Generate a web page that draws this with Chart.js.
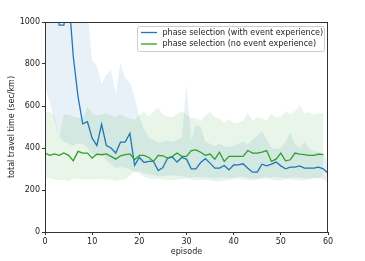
<!DOCTYPE html>
<html><head><meta charset="utf-8">
<script src="https://cdn.jsdelivr.net/npm/chart.js@4"></script>
<style>html,body{margin:0;padding:0;background:#fff;}canvas{display:block;}</style>
</head><body>
<canvas id="c" width="365" height="261"></canvas>
<script>
const episodes = [0,1,2,3,4,5,6,7,8,9,10,11,12,13,14,15,16,17,18,19,20,21,22,23,24,25,26,27,28,29,30,31,32,33,34,35,36,37,38,39,40,41,42,43,44,45,46,47,48,49,50,51,52,53,54,55,56,57,58,59,60];
const xTicks = [0,10,20,30,40,50,60];
const yTicks = [0,200,400,600,800,1000];
const seriesLabels = ['phase selection (with event experience)','phase selection (no event experience)'];

const blueMean = [1300,1250,1350,985,985,1130,835,645,515,525,447,412,513,412,400,376,428,428,470,317,355,331,336,336,293,307,352,357,333,355,347,301,301,331,349,328,304,304,317,296,319,320,325,304,285,285,323,315,323,333,315,301,309,309,315,304,304,304,309,301,280];
const blueUpper = [1250,1300,1400,1200,1200,1300,1250,1150,1100,1050,815,790,705,750,770,660,805,735,710,645,545,490,450,440,425,430,435,430,440,450,700,440,510,500,430,420,410,420,410,405,410,420,430,415,440,460,480,440,400,395,400,430,475,420,400,430,400,385,380,375,330];
const blueLower = [690,620,530,450,430,420,410,420,420,400,370,360,370,340,320,305,310,305,300,285,290,280,275,270,265,265,270,270,268,265,262,258,260,262,260,258,255,258,260,258,260,262,262,258,255,255,260,262,260,262,258,255,258,260,258,255,256,258,255,250,238];

const greenMean = [376,365,372,365,376,365,339,384,376,376,352,371,368,372,360,347,363,368,372,344,365,365,355,336,365,363,352,360,376,360,360,388,391,380,365,371,347,380,336,360,360,360,360,388,376,376,380,388,336,347,376,339,344,376,371,368,365,365,371,368];
const greenUpper = [573,573,555,448,560,558,550,545,540,597,566,555,560,566,555,548,560,548,540,535,557,571,550,575,590,560,550,545,560,575,560,544,540,530,555,571,545,540,520,537,518,520,530,566,530,545,540,530,566,545,550,576,560,575,605,565,570,560,565,565];
const greenLower = [249,257,250,248,250,241,255,255,250,249,250,252,252,250,248,243,250,249,268,289,280,262,255,250,255,250,249,246,250,252,255,250,245,248,250,245,242,241,245,248,250,255,250,248,245,250,252,255,250,245,245,250,252,248,245,245,250,255,260,265];

const BLUE = '#1f77b4', GREEN = '#2ca02c';
const pts = arr => arr.map((v,i) => ({x: episodes[i], y: v}));
const band = (arr, fillTarget, color, order) => ({
  data: pts(arr), borderColor: 'rgba(0,0,0,0)', borderWidth: 0, pointRadius: 0,
  fill: fillTarget === null ? false : {target: fillTarget}, backgroundColor: color, order: order, tension: 0
});

const framePlugin = {
  id: 'frame',
  afterDraw(chart) {
    const ctx = chart.ctx, a = chart.chartArea;
    ctx.save();
    ctx.strokeStyle = '#333'; ctx.lineWidth = 1;
    ctx.strokeRect(Math.round(a.left)+0.5, Math.round(a.top)+0.5, Math.round(a.right-a.left)-1, Math.round(a.bottom-a.top));
    const lx = 137.5, ly = 26.5, lw = 187, lh = 25;
    ctx.beginPath();
    ctx.roundRect(lx, ly, lw, lh, 2);
    ctx.fillStyle = 'rgba(255,255,255,0.8)'; ctx.fill();
    ctx.strokeStyle = '#cccccc'; ctx.lineWidth = 1; ctx.stroke();
    const rows = [[seriesLabels[0], BLUE, 32.5], [seriesLabels[1], GREEN, 44]];
    ctx.font = '8px "DejaVu Sans"'; ctx.textBaseline = 'middle'; ctx.textAlign = 'left';
    rows.forEach(([t, c, y]) => {
      ctx.strokeStyle = c; ctx.lineWidth = 1.3;
      ctx.beginPath(); ctx.moveTo(141, y); ctx.lineTo(157, y); ctx.stroke();
      ctx.fillStyle = '#222'; ctx.fillText(t, 162.5, y);
    });
    ctx.restore();
  }
};

new Chart(document.getElementById('c'), {
  type: 'line',
  data: {
    datasets: [
      band(blueUpper, 1, 'rgba(31,119,180,0.1)', 5),
      band(blueLower, null, 'rgba(0,0,0,0)', 4),
      band(greenUpper, 3, 'rgba(44,160,44,0.11)', 3),
      band(greenLower, null, 'rgba(0,0,0,0)', 2),
      {label: seriesLabels[0], data: pts(blueMean), borderColor: BLUE, borderWidth: 1.3, pointRadius: 0, fill: false, order: 1, tension: 0},
      {label: seriesLabels[1], data: pts(greenMean), borderColor: GREEN, borderWidth: 1.3, pointRadius: 0, fill: false, order: 0, tension: 0}
    ]
  },
  options: {
    responsive: false, animation: false, devicePixelRatio: 1,
    layout: {padding: {top: 22, right: 37, bottom: 0, left: 0}},
    plugins: {legend: {display: false}, tooltip: {enabled: false}},
    scales: {
      x: {
        type: 'linear', min: 0, max: 60,
        afterFit: s => { s.height = 29; },
        afterBuildTicks: s => { s.ticks = xTicks.map(v => ({value: v})); },
        border: {display: false},
        grid: {drawOnChartArea: false, drawTicks: true, tickLength: 3, color: '#333'},
        ticks: {padding: 2, color: '#222', font: {family: 'DejaVu Sans', size: 8}, maxRotation: 0, callback: v => String(v)},
        title: {display: true, text: 'episode', color: '#222', font: {family: 'DejaVu Sans', size: 8}, padding: {top: 0, bottom: 4}}
      },
      y: {
        type: 'linear', min: 0, max: 1000,
        afterFit: s => { s.width = 45; },
        afterBuildTicks: s => { s.ticks = yTicks.map(v => ({value: v})); },
        border: {display: false},
        grid: {drawOnChartArea: false, drawTicks: true, tickLength: 3, color: '#333'},
        ticks: {padding: 2, color: '#222', font: {family: 'DejaVu Sans', size: 8}, callback: v => String(v)},
        title: {display: true, text: 'total travel time (sec/km)', color: '#222', font: {family: 'DejaVu Sans', size: 8}, padding: {top: 7, bottom: 0}}
      }
    }
  },
  plugins: [framePlugin]
});
</script>
</body></html>
